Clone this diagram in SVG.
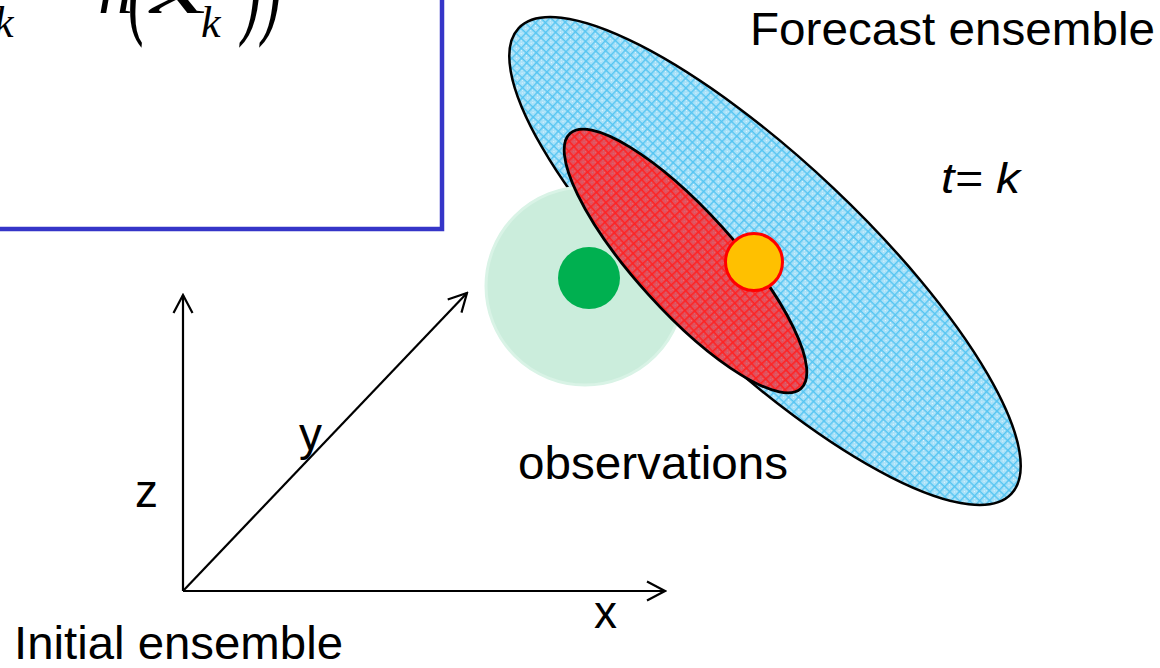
<svg xmlns="http://www.w3.org/2000/svg" width="1160" height="668" viewBox="0 0 1160 668">
<style>
.lbl{font-family:"Liberation Sans",Arial,sans-serif;font-size:46px;fill:#000}
.it{font-style:italic}
.math{font-family:"Liberation Serif","Times New Roman",serif;font-style:italic;fill:#000}
.axis{stroke:#000;stroke-width:2.2;fill:none}
</style>
<defs>
<pattern id="bluep" width="7" height="7" patternUnits="userSpaceOnUse">
<rect width="7" height="7" fill="#a9e1f8"/>
<rect x="2" y="2" width="1" height="1" fill="#e6f7ff"/>
<rect x="4" y="4" width="1" height="1" fill="#e6f7ff"/>
<rect x="5" y="2" width="1" height="1" fill="#c8eefc"/>
<rect x="0" y="0" width="7" height="1.4" fill="#55c5f2"/>
<rect x="0" y="0" width="1.4" height="7" fill="#55c5f2"/>
</pattern>
<pattern id="redp" width="7" height="7" patternUnits="userSpaceOnUse">
<rect width="7" height="7" fill="#e2505c"/>
<rect x="2" y="2" width="1" height="1" fill="#c27483"/>
<rect x="4" y="4" width="1" height="1" fill="#c27483"/>
<rect x="5" y="2" width="1" height="1" fill="#ff6a6a"/>
<rect x="0" y="0" width="7" height="1.5" fill="#ff2222"/>
<rect x="0" y="0" width="1.5" height="7" fill="#ff2222"/>
</pattern>
<marker id="arr" viewBox="-20 -11 22 22" refX="0" refY="0" markerWidth="22" markerHeight="22" markerUnits="userSpaceOnUse" orient="auto">
<path d="M-18,-9.5 L0,0 L-18,9.5" fill="none" stroke="#000" stroke-width="2.2"/>
</marker>
</defs>
<rect width="1160" height="668" fill="#fff"/>

<g id="formula-box">
<rect x="-10" y="-10" width="452" height="239" fill="#fff" stroke="#3535c8" stroke-width="4.5"/>
<text class="math" x="-6" y="37" font-size="44">k</text>
<text class="math" x="98" y="13" font-size="70">h</text>
<text class="math" transform="translate(128,22) scale(1,2)" font-size="60">(</text>
<text class="math" x="150" y="13" font-size="70" textLength="58" lengthAdjust="spacingAndGlyphs">x</text>
<text class="math" x="201" y="37" font-size="44">k</text>
<text class="math" transform="translate(242,22) scale(1,2)" font-size="60">))</text>
</g>

<g id="forecast-ensemble">
<ellipse cx="765" cy="261" rx="339" ry="100" transform="rotate(43.4 765 261)" fill="url(#bluep)" stroke="#000" stroke-width="2.5"/>
</g>

<g id="observations">
<circle cx="585" cy="286" r="99" fill="#cbeddc" stroke="#d9f3e6" stroke-width="3"/>
<circle cx="589" cy="278" r="31" fill="#00b050"/>
</g>

<g id="analysis-ensemble">
<ellipse cx="685.5" cy="261" rx="172" ry="50" transform="rotate(47.8 685.5 261)" fill="url(#redp)" stroke="#000" stroke-width="2.8"/>
</g>

<g id="truth">
<circle cx="754" cy="262" r="28.5" fill="#ffc000" stroke="#ff0000" stroke-width="3"/>
</g>

<g id="connectors">
<line class="axis" x1="183" y1="591" x2="183" y2="295" marker-end="url(#arr)"/>
<line class="axis" x1="183" y1="591" x2="467" y2="293" marker-end="url(#arr)"/>
<line class="axis" x1="183" y1="591" x2="665" y2="591" marker-end="url(#arr)"/>
</g>

<g id="labels">
<text class="lbl" x="750" y="45" textLength="405" lengthAdjust="spacingAndGlyphs">Forecast ensemble</text>
<text class="lbl it" x="941" y="193" style="font-size:43px" textLength="79" lengthAdjust="spacingAndGlyphs">t= k</text>
<text class="lbl" x="518" y="479" textLength="270" lengthAdjust="spacingAndGlyphs">observations</text>
<text class="lbl" x="14" y="659" textLength="329" lengthAdjust="spacingAndGlyphs">Initial ensemble</text>
<text class="lbl" x="135" y="507">z</text>
<text class="lbl" x="299" y="450">y</text>
<text class="lbl" x="594" y="628">x</text>
</g>
</svg>
